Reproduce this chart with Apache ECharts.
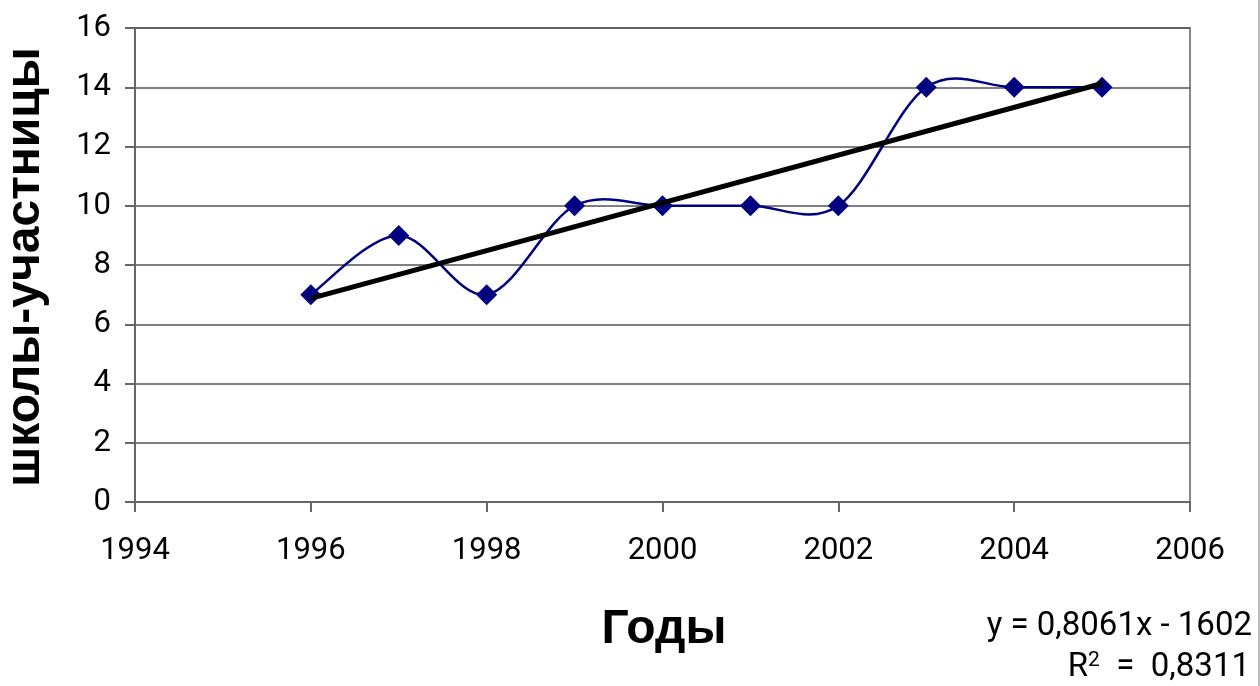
<!DOCTYPE html>
<html><head><meta charset="utf-8">
<script src="https://cdn.jsdelivr.net/npm/echarts@6/dist/echarts.min.js"></script>
<style>html,body{margin:0;padding:0;background:#fff}#c{width:1260px;height:686px}</style>
</head><body><div id="c"></div>
<script>
const years = [1996, 1997, 1998, 1999, 2000, 2001, 2002, 2003, 2004, 2005];
const schools = [7, 9, 7, 10, 10, 10, 10, 14, 14, 14];
const trendYears = [1996, 2005];
const equationText = 'y = 0,8061x - 1602';
const r2Value = '0,8311';
const xTitle = 'Годы';
const yTitle = 'школы-участницы';

// least-squares linear trend evaluated at the end years
const n = years.length;
const mx = years.reduce((a,b)=>a+b,0)/n;
const my = schools.reduce((a,b)=>a+b,0)/n;
let sxy = 0, sxx = 0;
for (let i=0;i<n;i++){ sxy += (years[i]-mx)*(schools[i]-my); sxx += (years[i]-mx)**2; }
const slope = sxy/sxx;
const trend = trendYears.map(x => [x, my + slope*(x-mx)]);
const points = years.map((y,i)=>[y, schools[i]]);

// spreadsheet-style smoothed line (Catmull-Rom Bezier) through the data, positioned by the chart's axes
function renderSmooth(params, api) {
  if (params.dataIndex !== 0) return null;
  const p = points.map(d => api.coord(d));
  let d = 'M' + p[0][0] + ' ' + p[0][1];
  for (let i = 0; i < p.length - 1; i++) {
    const p0 = p[Math.max(i-1,0)], p1 = p[i], p2 = p[i+1], p3 = p[Math.min(i+2,p.length-1)];
    const c1 = [p1[0] + (p2[0]-p0[0])/6, p1[1] + (p2[1]-p0[1])/6];
    const c2 = [p2[0] - (p3[0]-p1[0])/6, p2[1] - (p3[1]-p1[1])/6];
    d += ' C' + c1[0] + ' ' + c1[1] + ' ' + c2[0] + ' ' + c2[1] + ' ' + p2[0] + ' ' + p2[1];
  }
  return {type: 'path', shape: {pathData: d}, style: {stroke: '#000080', fill: 'none', lineWidth: 2.5}};
}

const chart = echarts.init(document.getElementById('c'));
chart.setOption({
  backgroundColor: '#fff',
  animation: false,
  grid: {left: 135, right: 70, top: 28, bottom: 184, show: true, borderColor: '#888', borderWidth: 2, backgroundColor: 'transparent'},
  xAxis: {
    type: 'value', min: 1994, max: 2006, interval: 2,
    axisLine: {show: true, lineStyle: {color: '#666', width: 2}},
    axisTick: {show: true, length: 10, lineStyle: {color: '#666', width: 2}},
    axisLabel: {color: '#000', fontFamily: 'Roboto', fontSize: 31, margin: 34, formatter: v => String(v)},
    splitLine: {show: false}
  },
  yAxis: {
    type: 'value', min: 0, max: 16, interval: 2,
    axisLine: {show: true, lineStyle: {color: '#666', width: 2}},
    axisTick: {show: true, length: 10, lineStyle: {color: '#666', width: 2}},
    axisLabel: {color: '#000', fontFamily: 'Roboto', fontSize: 31, margin: 24, formatter: v => String(v)},
    splitLine: {show: true, lineStyle: {color: '#555', width: 1.5}}
  },
  series: [
    {
      type: 'custom', data: points, renderItem: renderSmooth, z: 2, clip: false
    },
    {
      type: 'scatter', data: points,
      symbol: 'diamond', symbolSize: 21,
      itemStyle: {color: '#000080', opacity: 1},
      z: 3
    },
    {
      type: 'line', data: trend, symbol: 'none',
      lineStyle: {color: '#000', width: 5},
      z: 4
    }
  ],
  graphic: [
    {type: 'rect', shape: {x: 1258, y: 0, width: 2, height: 686}, style: {fill: '#bbb'}},
    {type: 'text', x: 664, y: 630, style: {text: xTitle, font: 'bold 48px "Liberation Sans", Arial', fill: '#000', align: 'center', verticalAlign: 'middle'}},
    {type: 'text', x: 26, y: 267, rotation: Math.PI/2,
      style: {text: yTitle, font: 'bold 48px "Liberation Sans", Arial', fill: '#000', align: 'center', verticalAlign: 'middle'}},
    {type: 'text', x: 1252, y: 627, style: {text: equationText, font: '33px Roboto', fill: '#000', align: 'right', verticalAlign: 'middle'}},
    {type: 'text', x: 1250, y: 668, style: {
      text: '{n|R}{s|2}{n|  =  ' + r2Value + '}', align: 'right', verticalAlign: 'middle',
      rich: {
        n: {fontFamily: 'Roboto', fontSize: 33, fill: '#000', color: '#000', lineHeight: 36},
        s: {fontFamily: 'Roboto', fontSize: 21, fill: '#000', color: '#000', verticalAlign: 'top', lineHeight: 36, padding: [0, 0, 14, 0]}
      }}}
  ]
});
</script></body></html>
